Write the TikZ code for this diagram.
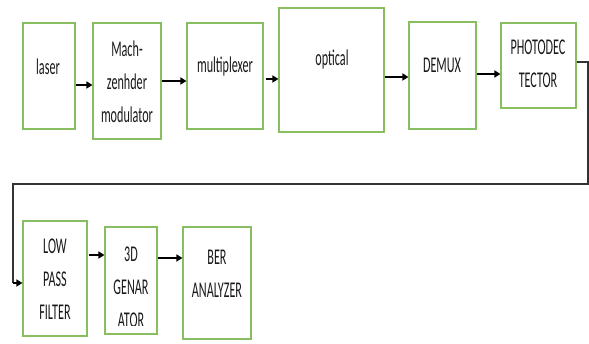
\documentclass[tikz,border=0pt]{standalone}
\usepackage{fontspec}
\newfontfamily\lbl[FakeStretch=0.54]{Carlito}
\usetikzlibrary{arrows.meta}
\definecolor{boxgreen}{RGB}{135,190,95}
\definecolor{txt}{RGB}{25,25,25}
\tikzset{
  blk/.style={draw=boxgreen, line width=1.1pt, inner sep=0pt},
  lab/.style={font=\lbl\fontsize{22.5}{33}\selectfont, text=txt, align=center, inner sep=0pt},
  arr/.style={line width=1.8pt, -{Triangle[length=6pt,width=7pt]}},
  feed/.style={line width=1.4pt, draw=black!80}
}
\begin{document}
\begin{tikzpicture}[x=1pt,y=-1pt]
\useasboundingbox (0,0) rectangle (589,344);
% boxes
\node[blk, minimum width=52pt, minimum height=106pt] (laser) at (49,76) {};
\node[blk, minimum width=68pt, minimum height=116pt] (mach) at (127,81) {};
\node[blk, minimum width=76pt, minimum height=106pt] (mux) at (225,76) {};
\node[blk, minimum width=105pt, minimum height=124pt] (opt) at (331.5,70) {};
\node[blk, minimum width=67pt, minimum height=107pt] (demux) at (442.5,75.5) {};
\node[blk, minimum width=75pt, minimum height=85pt] (photo) at (538.5,65.5) {};
\node[blk, minimum width=64pt, minimum height=115pt] (lpf) at (55,278.5) {};
\node[blk, minimum width=52pt, minimum height=107pt] (gen) at (131,280.5) {};
\node[blk, minimum width=68pt, minimum height=112pt] (ber) at (217,283) {};
% labels
\node[lab] (laserT) at (48,67) {laser};
\node[lab] (machT) at (127,82) {Mach-\\zenhder\\modulator};
\node[lab] (muxT) at (225,67) {multiplexer};
\node[lab] (optT) at (332,60) {optical};
\node[lab] (demuxT) at (442,65) {DEMUX};
\node[lab] (photoT) at (538,64) {PHOTODEC\\TECTOR};
\node[lab] (lpfT) at (55,279) {LOW\\PASS\\FILTER};
\begin{scope}
\clip (105,227) rectangle (157,326);
\node[lab] (genT) at (131,287) {3D\\GENAR\\ATOR};
\end{scope}
\node[lab] (berT) at (217,273.5) {BER\\ANALYZER};
% arrows
\draw[arr] (laser.east |- 0,85) -- (mach.west |- 0,85);
\draw[arr] (mach.east |- 0,81) -- (mux.west |- 0,81);
\draw[arr] ([xshift=2pt]mux.east |- 0,79) -- (opt.west |- 0,79);
\draw[arr] (opt.east |- 0,77) -- (demux.west |- 0,77);
\draw[arr] (demux.east |- 0,74) -- (photo.west |- 0,74);
\coordinate (c1) at (588,62);
\coordinate (c2) at (588,184);
\coordinate (c3) at (13,184);
\coordinate (c4) at (13,283);
\draw[feed] (photo.east |- c1) -- (c1) -- (c2) -- (c3) -- (c4);
\draw[arr, line width=1.4pt] (c4) -- (lpf.west |- c4);
\draw[arr] ([xshift=1pt]lpf.east |- 0,255) -- (gen.west |- 0,255);
\draw[arr] (gen.east |- 0,258) -- (ber.west |- 0,258);
\end{tikzpicture}
\end{document}
